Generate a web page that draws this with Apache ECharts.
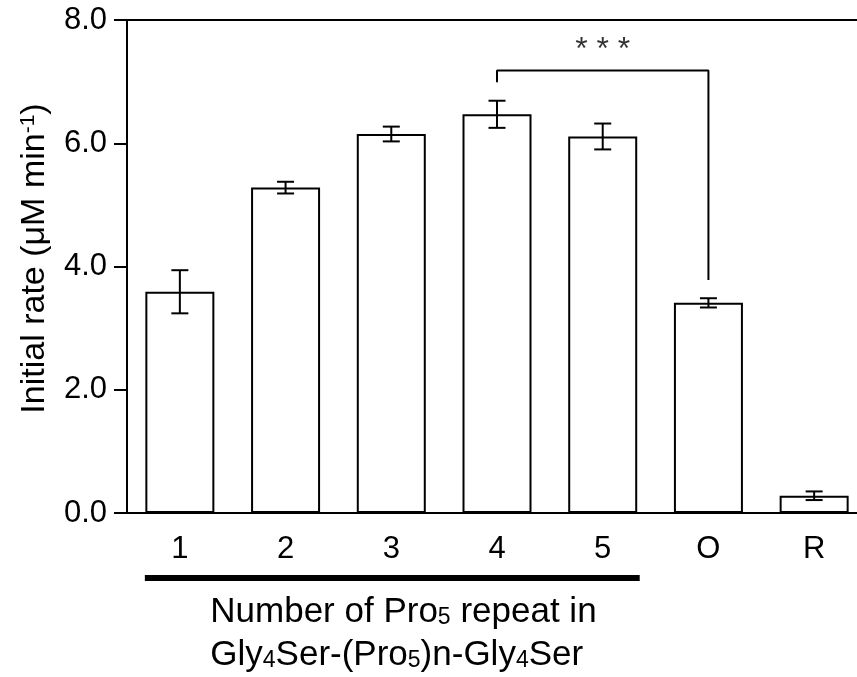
<!DOCTYPE html>
<html>
<head>
<meta charset="utf-8">
<script src="https://cdn.jsdelivr.net/npm/echarts@6/dist/echarts.min.js"></script>
<style>
  html, body { margin: 0; padding: 0; background: #fff; }
  #chart { width: 857px; height: 677px; }
</style>
</head>
<body>
<div id="chart"></div>
<script>
// 数据
var categories = ['1', '2', '3', '4', '5', 'O', 'R'];
var means = [3.59, 5.28, 6.15, 6.47, 6.11, 3.41, 0.28];
var errors = [0.35, 0.095, 0.12, 0.22, 0.21, 0.075, 0.07];
var yTicks = [0, 2, 4, 6, 8];
// 显著性括号: 4 vs O
var bracket = [[3, 6.99], [3, 7.18], [5, 7.18], [5, 3.78]];
var starsPoint = [[4, 7.18]];

var FONT = "'Liberation Sans', Arial, sans-serif";
var BAR_W = 69;

var chart = echarts.init(document.getElementById('chart'));

var option = {
    animation: false,
    backgroundColor: '#fff',
    grid: { left: 127, width: 740, top: 20, bottom: 164, outerBoundsMode: 'none', containLabel: false },
    xAxis: [{
        type: 'category',
        data: categories,
        axisLine: { lineStyle: { color: '#000', width: 2 } },
        axisTick: { alignWithLabel: true, length: 13, lineStyle: { color: '#000', width: 2 } },
        axisLabel: { color: '#000', fontSize: 31, fontFamily: FONT, margin: 21 }
    }, {
        // 顶部的横线
        type: 'category',
        data: categories,
        position: 'top',
        axisLine: { onZero: false, lineStyle: { color: '#000', width: 2 } },
        axisTick: { show: false },
        axisLabel: { show: false }
    }],
    yAxis: {
        type: 'value',
        min: 0,
        max: yTicks[yTicks.length - 1],
        interval: 2,
        name: 'Initial rate (μM min{sup|-1})',
        nameLocation: 'middle',
        nameGap: 75,
        nameTextStyle: {
            color: '#000', fontSize: 34, fontFamily: FONT,
            padding: [0, 0, 0, 16],
            rich: {
                sup: { fontSize: 21, fontFamily: FONT, color: '#000', verticalAlign: 'top', lineHeight: 16 }
            }
        },
        axisLine: { show: true, lineStyle: { color: '#000', width: 2 } },
        axisTick: { show: true, length: 13, lineStyle: { color: '#000', width: 2 } },
        axisLabel: {
            color: '#000', fontSize: 31, fontFamily: FONT, margin: 20,
            formatter: function (v) { return v.toFixed(1); }
        },
        splitLine: { show: false }
    },
    series: [{
        type: 'bar',
        data: means,
        barWidth: BAR_W,
        itemStyle: { color: '#fff', borderColor: '#000', borderWidth: 2 }
    }, {
        // 误差棒
        type: 'custom',
        data: categories.map(function (c, i) { return [i, means[i], errors[i]]; }),
        renderItem: function (params, api) {
            var x = api.value(0), y = api.value(1), e = api.value(2);
            var hi = api.coord([x, y + e]);
            var lo = api.coord([x, y - e]);
            var cap = 8.5;
            var st = { stroke: '#000', lineWidth: 2 };
            return {
                type: 'group',
                children: [
                    { type: 'line', shape: { x1: hi[0], y1: hi[1], x2: lo[0], y2: lo[1] }, style: st },
                    { type: 'line', shape: { x1: hi[0] - cap, y1: hi[1], x2: hi[0] + cap, y2: hi[1] }, style: st },
                    { type: 'line', shape: { x1: lo[0] - cap, y1: lo[1], x2: lo[0] + cap, y2: lo[1] }, style: st }
                ]
            };
        },
        z: 5
    }, {
        type: 'line',
        data: bracket,
        symbol: 'none',
        lineStyle: { color: '#000', width: 2 },
        z: 5
    }, {
        type: 'scatter',
        data: starsPoint,
        symbolSize: 0,
        label: {
            show: true, position: 'top', distance: 4,
            formatter: '* * *', color: '#000', fontSize: 32, fontFamily: FONT
        }
    }]
};
chart.setOption(option);

// 1-5 下面的粗线和横轴标题
var p1 = chart.convertToPixel({ xAxisIndex: 0 }, 0);
var p5 = chart.convertToPixel({ xAxisIndex: 0 }, 4);
var p3 = chart.convertToPixel({ xAxisIndex: 0 }, 2);
var subRich = {
    sub: { fontSize: 23, fontFamily: FONT, fill: '#000', verticalAlign: 'bottom', lineHeight: 16 }
};
chart.setOption({
    graphic: [{
        type: 'rect',
        shape: { x: p1 - 35, y: 575, width: p5 - p1 + 72, height: 6 },
        style: { fill: '#000' }
    }, {
        type: 'text',
        x: p3 - 181, y: 612,
        style: {
            text: 'Number of Pro{sub|5} repeat in',
            fontSize: 35, fontFamily: FONT, fill: '#000',
            align: 'left', verticalAlign: 'middle', rich: subRich
        }
    }, {
        type: 'text',
        x: p3 - 181, y: 655,
        style: {
            text: 'Gly{sub|4}Ser-(Pro{sub|5})n-Gly{sub|4}Ser',
            fontSize: 35, fontFamily: FONT, fill: '#000',
            align: 'left', verticalAlign: 'middle', rich: subRich
        }
    }]
});
</script>
</body>
</html>
